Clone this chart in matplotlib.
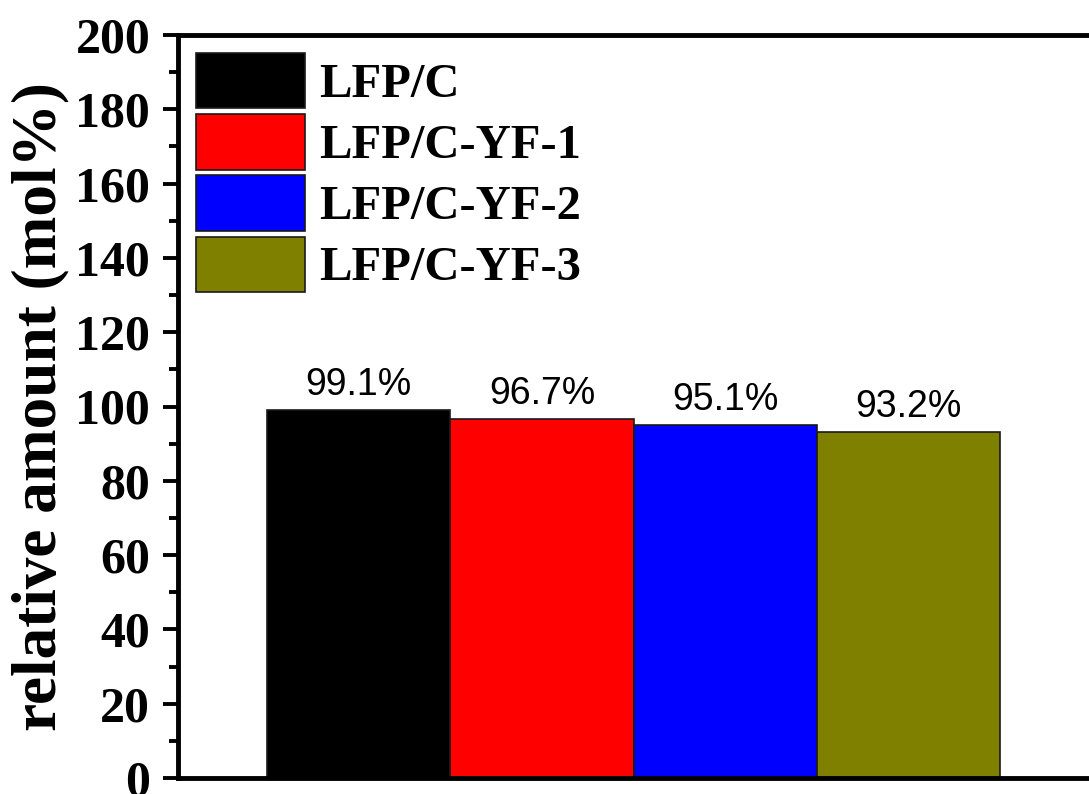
import matplotlib.pyplot as plt
from matplotlib.ticker import MultipleLocator
from matplotlib.patches import Patch

samples = ["LFP/C", "LFP/C-YF-1", "LFP/C-YF-2", "LFP/C-YF-3"]
amounts = [99.1, 96.7, 95.1, 93.2]
colors = ["#000000", "#ff0000", "#0000ff", "#808000"]

serif = ["Liberation Serif", "DejaVu Serif"]

fig = plt.figure(figsize=(10.89, 7.94), dpi=100)
# axes run off the right edge, so no right spine shows
ax = fig.add_axes([178 / 1089, 1 - 778 / 794, (1110 - 178) / 1089, (778 - 35) / 794])

x = list(range(len(samples)))
bars = ax.bar(x, amounts, width=1.0, color=colors, edgecolor="#1a1a1a", linewidth=1.2)
for xi, v in zip(x, amounts):
    ax.text(xi, v + 1.8, f"{v}%", ha="center", va="bottom",
            fontsize=27, family=["Liberation Sans", "DejaVu Sans"])

ax.set_xlim(-0.986, 4.1)
ax.set_ylim(0, 200)
ax.yaxis.set_major_locator(MultipleLocator(20))
ax.yaxis.set_minor_locator(MultipleLocator(10))
ax.set_xticks([])

for side in ["left", "bottom", "top"]:
    ax.spines[side].set_linewidth(3.5)
ax.spines["right"].set_visible(False)

ax.tick_params(axis="y", which="major", direction="out", length=11, width=2.8, pad=9)
ax.tick_params(axis="y", which="minor", direction="out", length=6.5, width=2.8)
for lbl in ax.get_yticklabels():
    lbl.set_fontfamily(serif)
    lbl.set_fontweight("bold")
    lbl.set_fontsize(36)

ax.set_ylabel("relative amount (mol%)", fontsize=45.5, fontweight="bold",
              family=serif, labelpad=4)

handles = [Patch(facecolor=c, edgecolor="#1a1a1a", linewidth=1.2) for c in colors]
ax.legend(handles, samples, loc="upper left", bbox_to_anchor=(0.0, 1.0),
          frameon=False, prop={"family": serif, "weight": "bold", "size": 35},
          handlelength=2.24, handleheight=1.375, labelspacing=0.12,
          handletextpad=0.3, borderaxespad=0.2, borderpad=0.17)

fig.savefig("out.png", dpi=100)
